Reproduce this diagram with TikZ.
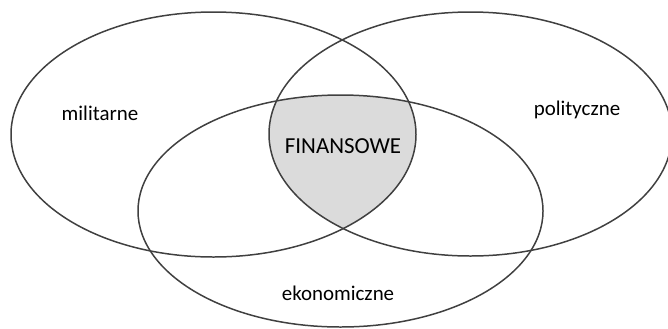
\documentclass[tikz,border=0pt]{standalone}
\usepackage{fontspec}
\setmainfont{Carlito}
\usetikzlibrary{positioning}

\tikzset{
  setline/.style={draw=black!75, line width=0.75pt},
  setname/.style={inner sep=0pt, font=\fontsize{10.5}{12}\selectfont},
}

\begin{document}
\begin{tikzpicture}[x=0.5bp, y=0.5bp]
\useasboundingbox (0,0) rectangle (668,328);
\clip (0,0) rectangle (668,328);
% common part of the three sets
\begin{scope}
\clip (213.5,193.5) ellipse [x radius=202.5, y radius=122.5];
\clip (470.5,194) ellipse [x radius=201.5, y radius=122];
\fill[black!14] (340.5,117) ellipse [x radius=202.5, y radius=116];
\end{scope}
% the three sets
\draw[setline] (213.5,193.5) ellipse [x radius=202.5, y radius=122.5]; % militarne
\draw[setline] (470.5,194) ellipse [x radius=201.5, y radius=122]; % polityczne
\draw[setline] (340.5,117) ellipse [x radius=202.5, y radius=116]; % ekonomiczne
% names
\node[setname] (name_mil) at (100,215) {militarne};
\node[setname] (name_pol) at (577,218) {polityczne};
\node[setname] (name_eko) at (338,35) {ekonomiczne};
\node[setname, font=\fontsize{11.5}{13}\selectfont] (name_fin) at (343,182) {FINANSOWE};
\end{tikzpicture}
\end{document}
